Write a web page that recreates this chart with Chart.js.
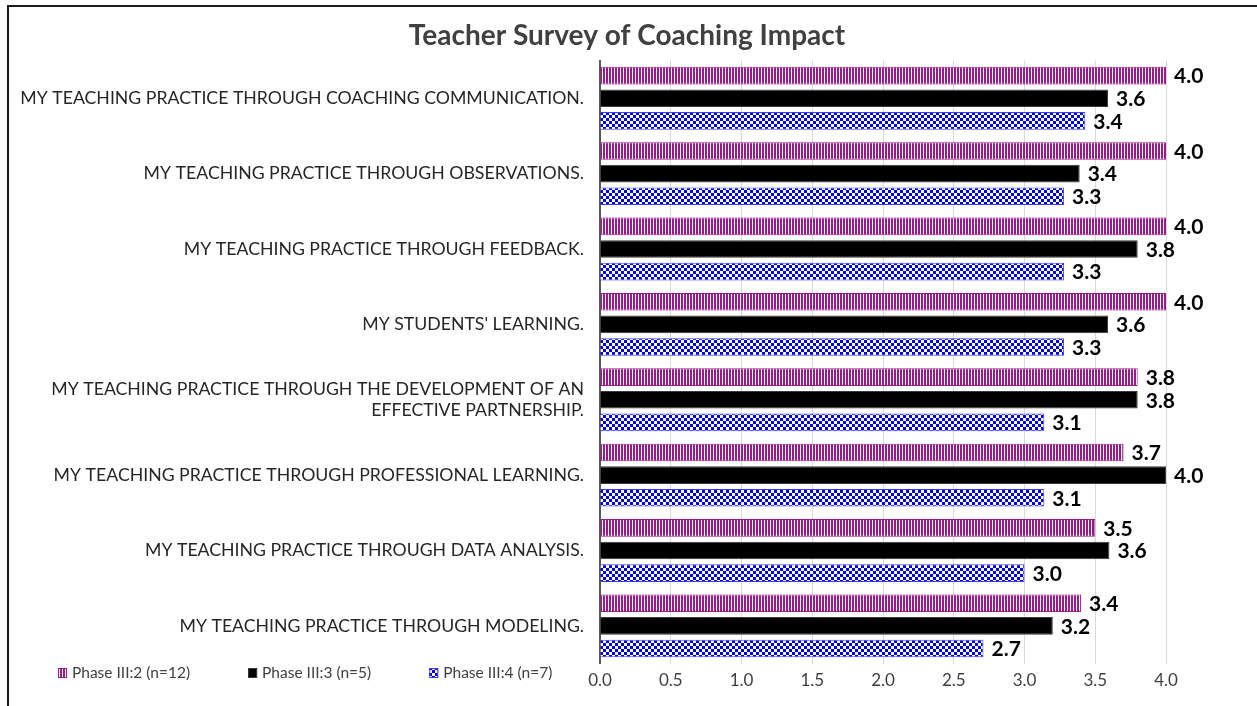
<!DOCTYPE html>
<html>
<head>
<meta charset="utf-8">
<script src="https://cdn.jsdelivr.net/npm/chart.js@4.4.0/dist/chart.umd.min.js"></script>
<style>
  html, body { margin: 0; padding: 0; background: #fff; }
  #frame { position: absolute; left: 7px; top: 5px; width: 1250px; height: 701px;
           border-top: 2px solid #1a1a1a; border-left: 2px solid #1a1a1a; box-sizing: border-box; }
  #wrap { position: absolute; left: 0; top: 0; width: 1248px; height: 699px; }
</style>
</head>
<body>
<div id="frame"><div id="wrap"><canvas id="c"></canvas></div></div>
<script>
const categories = [
  "MY TEACHING PRACTICE THROUGH COACHING COMMUNICATION.",
  "MY TEACHING PRACTICE THROUGH OBSERVATIONS.",
  "MY TEACHING PRACTICE THROUGH FEEDBACK.",
  "MY STUDENTS' LEARNING.",
  ["MY TEACHING PRACTICE THROUGH THE DEVELOPMENT OF AN", "EFFECTIVE PARTNERSHIP."],
  "MY TEACHING PRACTICE THROUGH PROFESSIONAL LEARNING.",
  "MY TEACHING PRACTICE THROUGH DATA ANALYSIS.",
  "MY TEACHING PRACTICE THROUGH MODELING."
];
const seriesNames = ["Phase III:2 (n=12)", "Phase III:3 (n=5)", "Phase III:4 (n=7)"];
const phase2 = [4.0, 4.0, 4.0, 4.0, 3.8, 3.7, 3.5, 3.4];
const phase3 = [3.59, 3.39, 3.8, 3.59, 3.8, 4.0, 3.6, 3.2];
const phase4 = [3.43, 3.28, 3.28, 3.28, 3.14, 3.14, 3.0, 2.71];
const xTickValues = [0.0, 0.5, 1.0, 1.5, 2.0, 2.5, 3.0, 3.5, 4.0];

const FONT = "Lato, 'Open Sans', sans-serif";
const PURPLE = '#9a1a8c';
const BLUE = '#0000f0';

function stripePattern() {
  const c = document.createElement('canvas');
  c.width = 3; c.height = 3;
  const g = c.getContext('2d');
  g.fillStyle = '#ffffff'; g.fillRect(0, 0, 3, 3);
  g.fillStyle = PURPLE; g.fillRect(0, 0, 2, 3);
  return g.createPattern(c, 'repeat');
}
function checkerPattern() {
  const c = document.createElement('canvas');
  c.width = 6; c.height = 6;
  const g = c.getContext('2d');
  g.fillStyle = '#ffffff'; g.fillRect(0, 0, 6, 6);
  g.fillStyle = BLUE; g.fillRect(0, 0, 3, 3); g.fillRect(3, 3, 3, 3);
  return g.createPattern(c, 'repeat');
}
const fills = [stripePattern(), '#000000', checkerPattern()];
const borders = [PURPLE, '#3a3a3a', '#3b3bff'];

const valueLabels = {
  id: 'valueLabels',
  afterDatasetsDraw(chart) {
    const ctx = chart.ctx;
    ctx.save();
    ctx.font = "bold 21px " + FONT;
    ctx.fillStyle = '#000';
    ctx.textAlign = 'left';
    ctx.textBaseline = 'middle';
    chart.data.datasets.forEach((ds, i) => {
      chart.getDatasetMeta(i).data.forEach((bar, j) => {
        ctx.fillText(ds.data[j].toFixed(1), bar.x + 8, bar.y + 1);
      });
    });
    ctx.restore();
  }
};

const titleShift = {
  id: 'titleShift',
  afterLayout(chart) {
    if (chart.titleBlock) { chart.titleBlock.left = 79; }
  }
};

const customLegend = {
  id: 'customLegend',
  afterDraw(chart) {
    const ctx = chart.ctx;
    ctx.save();
    ctx.font = "15.5px " + FONT;
    ctx.textBaseline = 'middle';
    ctx.textAlign = 'left';
    let x = 49;
    const y = 666;
    chart.data.datasets.forEach((ds, i) => {
      ctx.fillStyle = fills[i];
      ctx.fillRect(x, y - 5, 9, 10);
      ctx.strokeStyle = borders[i];
      ctx.lineWidth = 1;
      ctx.strokeRect(x + 0.5, y - 4.5, 8, 9);
      ctx.fillStyle = '#404040';
      ctx.fillText(ds.label, x + 14, y);
      x += 14 + ctx.measureText(ds.label).width + 58;
    });
    ctx.restore();
  }
};

new Chart(document.getElementById('c'), {
  type: 'bar',
  data: {
    labels: categories,
    datasets: [
      { label: seriesNames[0], data: phase2, backgroundColor: fills[0], borderColor: borders[0], borderWidth: 1 },
      { label: seriesNames[1], data: phase3, backgroundColor: fills[1], borderColor: borders[1], borderWidth: 1 },
      { label: seriesNames[2], data: phase4, backgroundColor: fills[2], borderColor: borders[2], borderWidth: 1 }
    ]
  },
  options: {
    indexAxis: 'y',
    responsive: true,
    maintainAspectRatio: false,
    animation: false,
    datasets: { bar: { categoryPercentage: 0.9, barPercentage: 0.78 } },
    layout: { padding: { left: 0, right: 91, top: 0, bottom: 8 } },
    plugins: {
      legend: { display: false },
      tooltip: { enabled: false },
      title: {
        display: true,
        text: 'Teacher Survey of Coaching Impact',
        color: '#404040',
        font: { family: FONT, size: 28, weight: 'bold' },
        padding: { top: 12, bottom: 8 }
      }
    },
    scales: {
      x: {
        min: 0, max: 4,
        afterBuildTicks(scale) { scale.ticks = xTickValues.map(v => ({ value: v })); },
        ticks: {
          color: '#404040',
          font: { family: FONT, size: 17 },
          padding: 7,
          callback: v => Number(v).toFixed(1)
        },
        grid: { color: '#d9d9d9', lineWidth: 1, drawTicks: false },
        border: { display: false }
      },
      y: {
        afterFit(scale) { scale.width = 591; },
        ticks: {
          color: '#262626',
          font: { family: FONT, size: 17.7 },
          padding: 16,
          autoSkip: false
        },
        grid: { display: false, drawTicks: false },
        border: { display: true, color: '#595959', width: 2 }
      }
    }
  },
  plugins: [valueLabels, customLegend, titleShift]
});
</script>
</body>
</html>
